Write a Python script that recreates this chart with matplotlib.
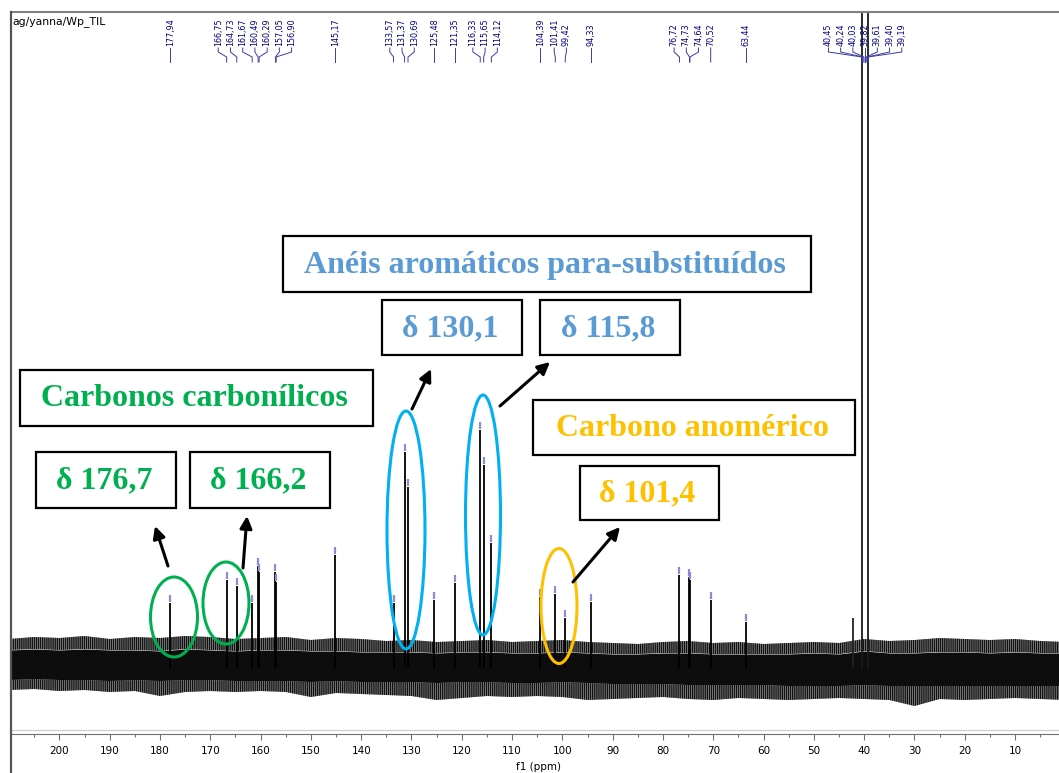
import numpy as np
import matplotlib
matplotlib.use('Agg')
import matplotlib.pyplot as plt
from matplotlib.patches import Ellipse, Rectangle
from matplotlib.lines import Line2D

matplotlib.rcParams['hatch.linewidth'] = 1.0

# --- spectrum data (ppm, height above the axis floor) ---
peak_ppm = [177.94, 166.75, 164.73, 161.67, 160.49, 160.29, 157.05, 156.90,
            145.17, 133.57, 131.37, 130.69, 125.48, 121.35, 116.33, 115.65,
            114.12, 104.39, 101.41, 99.42, 94.33, 76.72, 74.73, 74.64,
            70.52, 63.44]
peak_height = [131, 154, 148, 131, 168, 162, 162, 152,
               179, 131, 282, 247, 134, 151, 304, 269,
               191, 137, 140, 116, 132, 159, 157, 154,
               134, 112]

# unlabelled bump next to the solvent
extra_ppm = [42.3]
extra_height = [116]

# DMSO-d6 septet (goes off scale)
dmso_ppm = [40.45, 40.24, 40.03, 39.82, 39.61, 39.40, 39.19]
dmso_height = [1500, 1500, 1500, 1500, 1500, 1500, 1500]

# noise band every 5 ppm (210 -> 0)
noise_ppm = np.arange(210, -1, -5)
noise_outer_top = [95, 97, 96, 98, 95, 97, 96, 98, 97, 95, 96, 97, 94, 96, 95,
                   93, 94, 92, 93, 94, 92, 93, 94, 92, 91, 90, 92, 93, 91, 92,
                   90, 91, 92, 91, 95, 93, 94, 96, 95, 94, 95, 93, 92]
noise_core_top = [84, 85, 84, 85, 84, 84, 83, 85, 84, 83, 84, 84, 83, 83, 82,
                  82, 82, 81, 82, 82, 81, 81, 82, 81, 80, 80, 81, 81, 80, 80,
                  80, 80, 81, 80, 83, 81, 81, 82, 82, 81, 82, 81, 81]
noise_core_bot = [54, 55, 54, 54, 53, 54, 53, 54, 54, 53, 53, 53, 52, 53, 52,
                  52, 52, 51, 52, 52, 51, 51, 52, 51, 50, 50, 50, 49, 49, 49,
                  49, 48, 48, 48, 49, 48, 48, 48, 48, 48, 48, 48, 48]
noise_outer_bot = [44, 45, 43, 44, 42, 43, 38, 42, 43, 42, 43, 42, 37, 41, 40,
                   39, 38, 34, 36, 38, 37, 38, 37, 34, 35, 36, 37, 35, 34, 36,
                   35, 34, 35, 36, 35, 34, 28, 35, 34, 35, 36, 35, 34]

baseline = 66

W, H = 1059, 773
fig = plt.figure(figsize=(W / 100, H / 100), dpi=100)
ax = fig.add_axes([11 / W, 39 / H, 1 - 11 / W, 722 / H])
ax.set_xlim(209.62, 1.27)
ax.set_ylim(0, 722)

# noise
ax.fill_between(noise_ppm, noise_core_bot, noise_core_top, color='#0d0d0d', lw=0)
ax.fill_between(noise_ppm, noise_core_top, noise_outer_top, facecolor='#9a9a9a',
                edgecolor='#111111', hatch='||||||||', lw=0)
ax.fill_between(noise_ppm, noise_outer_bot, noise_core_bot, facecolor='#9a9a9a',
                edgecolor='#111111', hatch='||||||||', lw=0)

# peaks
ax.vlines(peak_ppm, baseline, peak_height, color='black', lw=1.3)
ax.vlines(extra_ppm, baseline, extra_height, color='#222222', lw=1.3)
dx = [dmso_ppm[0]] + dmso_ppm + [dmso_ppm[-1]]
dy = [baseline] + dmso_height + [baseline]
ax.plot(dx, dy, color='#1a1a1a', lw=1.3)

# light-blue integration marks on top of labelled peaks
ax.vlines(peak_ppm, np.array(peak_height) + 1, np.array(peak_height) + 8,
          color='#8c8cd6', lw=1.6)

# --- peak labels with connectors ---
label_ppm = sorted(peak_ppm + dmso_ppm, reverse=True)


def spread(vals, gap):
    # vals descending ppm, returns label positions spaced at least gap apart
    groups = [[v] for v in vals]
    changed = True
    while changed:
        changed = False
        pos = []
        for g in groups:
            c = np.mean(g)
            n = len(g)
            pos.append([c + gap * ((n - 1) / 2 - i) for i in range(n)])
        for i in range(len(groups) - 1):
            if pos[i][-1] - pos[i + 1][0] < gap:
                groups[i] = groups[i] + groups[i + 1]
                del groups[i + 1]
                changed = True
                break
    out = []
    for p in pos:
        out += p
    return out


label_x = spread(label_ppm, 2.43)
for v, lx in zip(label_ppm, label_x):
    ax.plot([lx, lx, v, v], [686, 682, 677, 672], color='#3c3ca0', lw=0.7)
    ax.text(lx, 688, f"{v:.2f}".replace('.', ','), rotation=90, ha='center',
            va='bottom', fontsize=5.8, color='#000080')

# axis styling
for s in ['left', 'right']:
    ax.spines[s].set_visible(False)
ax.spines['top'].set_color('#808080')
ax.spines['top'].set_linewidth(1.5)
ax.spines['bottom'].set_color('#707070')
ax.spines['bottom'].set_linewidth(0.8)
ax.axhline(4, color='#cccccc', lw=0.8)
ax.set_yticks([])
ax.set_xticks(np.arange(200, 0, -10))
ax.set_xticks(np.arange(205, 0, -5), minor=True)
ax.tick_params(axis='x', which='major', direction='out', length=4, width=0.8,
               color='#707070', labelsize=7.5, pad=5)
ax.tick_params(axis='x', which='minor', direction='out', length=2, width=0.8,
               color='#707070')

fig.add_artist(Line2D([11 / W, 11 / W], [0, (H - 12) / H], transform=fig.transFigure,
                      color='#555555', lw=1.6))
fig.text(538 / W, 1 - 767 / H, 'f1 (ppm)', ha='center', va='center', fontsize=7.5)
fig.text(12 / W, 1 - 22 / H, 'ag/yanna/Wp_TIL', ha='left', va='center', fontsize=7.8)

# --- annotation overlay in pixel coordinates ---
ov = fig.add_axes([0, 0, 1, 1], facecolor='none')
ov.set_xlim(0, W)
ov.set_ylim(H, 0)
ov.axis('off')

green, blue, blue2, gold = '#00B050', '#5B9BD5', '#00B0F0', '#FFC000'
serif = ['Liberation Serif', 'DejaVu Serif']

boxes = [
    ((283, 236, 811, 292), 'Anéis aromáticos para-substituídos', blue),
    ((382, 300, 522, 355), 'δ 130,1', blue),
    ((540, 300, 680, 355), 'δ 115,8', blue),
    ((20, 370, 373, 426), 'Carbonos carbonílicos', green),
    ((36, 452, 176, 508), 'δ 176,7', green),
    ((190, 452, 330, 508), 'δ 166,2', green),
    ((533, 400, 855, 455), 'Carbono anomérico', gold),
    ((580, 466, 719, 520), 'δ 101,4', gold),
]
for (x0, y0, x1, y1), txt, col in boxes:
    ov.add_patch(Rectangle((x0, y0), x1 - x0, y1 - y0, fill=False, ec='black', lw=1.6))
    ov.text((x0 + x1) / 2 - 2, (y0 + y1) / 2 + 1, txt, ha='center', va='center',
            fontsize=23, fontweight='bold', color=col, family=serif)

ellipses = [((174, 617), 47, 80, green), ((226, 603), 46, 82, green),
            ((406, 530), 38, 238, blue2), ((483, 515), 35, 240, blue2),
            ((559, 606), 36, 115, gold)]
for c, w, h, col in ellipses:
    ov.add_patch(Ellipse(c, w, h, fill=False, ec=col, lw=2.2))

arrows = [((168, 566), (155, 526)), ((243, 568), (247, 516)),
          ((412, 409), (431, 369)), ((500, 406), (550, 362)),
          ((573, 582), (620, 527))]
for tail, tip in arrows:
    ov.annotate('', xy=tip, xytext=tail,
                arrowprops=dict(arrowstyle='-|>', color='black', lw=2.2,
                                mutation_scale=18, shrinkA=0, shrinkB=0))

fig.savefig('out.png', dpi=100)
